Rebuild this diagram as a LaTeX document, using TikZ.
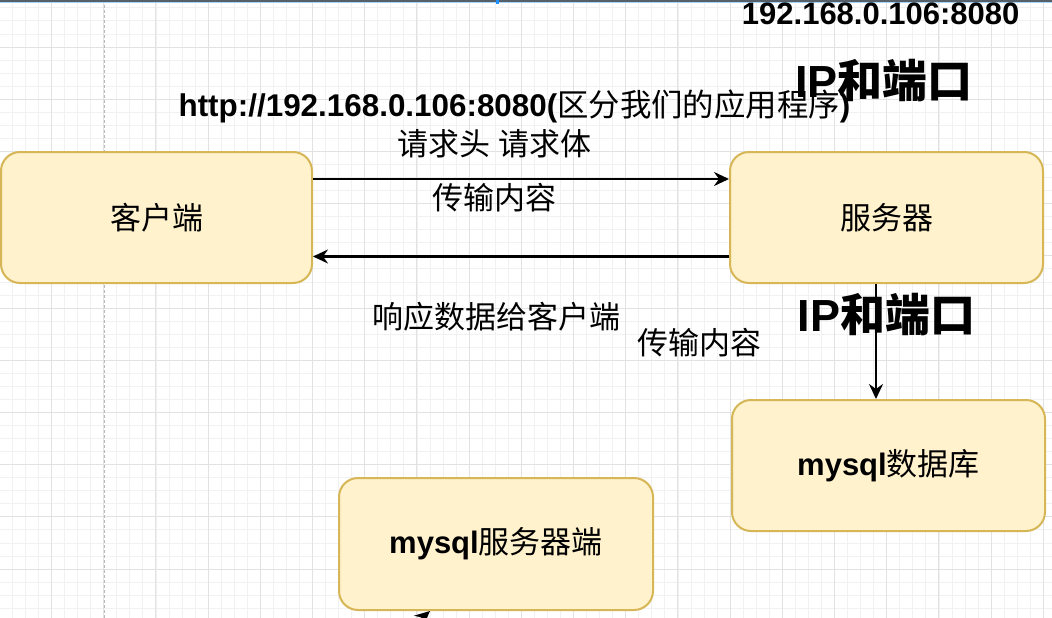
\documentclass[tikz,border=0pt]{standalone}
\usepackage{fontspec}
\setmainfont{Liberation Sans}
\newfontfamily\cjk{Noto Sans CJK SC}
\usetikzlibrary{arrows.meta}
\definecolor{boxfill}{HTML}{FFF2CC}
\definecolor{boxline}{HTML}{D6B656}
\definecolor{gridminor}{HTML}{F1F1F1}
\definecolor{gridmajor}{HTML}{E2E2E2}
\definecolor{topbar}{HTML}{56606B}
\definecolor{topblue}{HTML}{A9D3F2}
\definecolor{handle}{HTML}{1E90FF}
\begin{document}
\begin{tikzpicture}[x=1pt,y=-1pt,
 box/.style={draw=boxline, fill=boxfill, line width=2pt, rounded corners=19pt, inner sep=0pt, font=\fontsize{31}{31}\selectfont},
 arr/.style={draw=black, line width=2.2pt, -{Stealth[length=15pt,width=14pt,inset=5pt]}},
 lbl/.style={inner sep=0pt, font=\fontsize{31}{31}\selectfont},
 lblb/.style={inner sep=0pt, font=\fontsize{31}{31}\selectfont\bfseries},
 urlf/.style={inner sep=0pt, font=\fontsize{31.4}{31.4}\selectfont\bfseries},
 big/.style={inner sep=0pt, font=\fontsize{45}{45}\selectfont\bfseries}]
\clip (0,0) rectangle (1052,618);
\fill[white] (0,0) rectangle (1052,618);
% grid
\foreach \i in {0,...,80} { \draw[gridminor, line width=0.8pt] (12.35+13.05*\i,0) -- ++(0,618); }
\foreach \i in {0,...,47} { \draw[gridminor, line width=0.8pt] (0,7.85+13.05*\i) -- ++(1052,0); }
\foreach \i in {0,...,19} { \draw[gridmajor, line width=0.9pt] (51.5+52.2*\i,0) -- ++(0,618); }
\foreach \i in {0,...,11} { \draw[gridmajor, line width=0.9pt] (0,47+52.2*\i) -- ++(1052,0); }
\draw[gray!55, line width=0.9pt, dash pattern=on 3pt off 2pt] (104,0) -- (104,618);
% top bar
\fill[topbar] (0,0) rectangle (1052,2);
\draw[topblue, line width=1pt] (0,3) -- (1052,3);
\fill[handle] (495.5,0) rectangle (499,4.5);
% boxes
\node[box, minimum width=311pt, minimum height=131pt] (client) at (156.5,217.5) {\cjk 客户端};
\node[box, minimum width=313pt, minimum height=131pt] (server) at (886.5,217.5) {\cjk 服务器};
\node[box, minimum width=313pt, minimum height=131pt] (db) at (888.5,465.5) {{\bfseries mysql}{\cjk 数据库}};
\node[box, minimum width=314pt, minimum height=132pt] (mysqlsrv) at (496,544) {{\bfseries mysql}{\cjk 服务器端}};
% labels
\node[lblb, anchor=base] (ipport) at (880.7,25) {192.168.0.106:8080};
\node[big, anchor=base] (ip1) at (884,97) {IP{\cjk 和端口}};
\node[urlf, anchor=base] (url) at (514.5,116.7) {http://192.168.0.106:8080({\mdseries\cjk 区分我们的应用程序})};
\node[lbl] (req) at (494.7,144.2) {{\cjk 请求头} {\cjk 请求体}};
\node[lbl] (trans1) at (494.7,197.5) {\cjk 传输内容};
\node[lbl] (resp) at (496.7,316.7) {\cjk 响应数据给客户端};
\node[lbl] (trans2) at (699,343) {\cjk 传输内容};
\node[big, anchor=base] (ip2) at (886.7,331.7) {IP{\cjk 和端口}};
% connectors
\draw[arr] ([yshift=38.5pt]client.east) -- ([yshift=38.5pt]server.west);
\draw[arr] ([yshift=-39pt]server.west) -- ([yshift=-39pt]client.east);
\draw[arr] ([xshift=-10.5pt]server.south) -- ([xshift=-10.5pt]server.south |- db.north);
\coordinate (stub) at (404,634);
\draw[arr] (stub) -- ([xshift=-66pt]mysqlsrv.south);
\end{tikzpicture}
\end{document}
